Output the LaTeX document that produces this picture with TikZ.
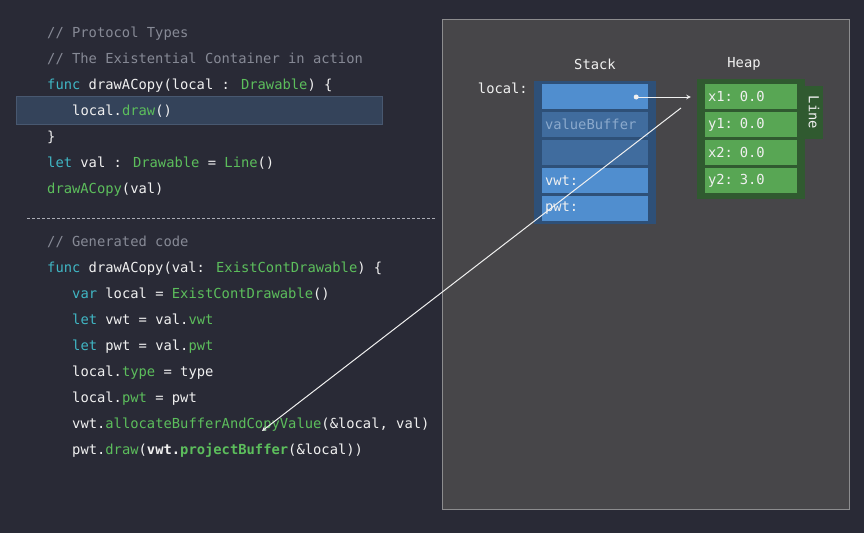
\documentclass[tikz,border=0pt]{standalone}
\usepackage{fontspec}
\newfontfamily\codefont{DejaVu Sans Mono}
\usetikzlibrary{arrows}

\definecolor{bgdark}{RGB}{41,42,54}
\definecolor{panelgrey}{RGB}{71,70,73}
\definecolor{panelline}{RGB}{140,140,142}
\definecolor{stackframe}{RGB}{46,80,120}
\definecolor{cellbright}{RGB}{80,142,207}
\definecolor{celldark}{RGB}{64,108,158}
\definecolor{vbtext}{RGB}{140,170,205}
\definecolor{heapframe}{RGB}{48,90,48}
\definecolor{heapcell}{RGB}{88,166,84}
\definecolor{cmtgrey}{RGB}{135,138,150}
\definecolor{kwdteal}{RGB}{64,182,196}
\definecolor{typgreen}{RGB}{92,190,92}
\definecolor{codewhite}{RGB}{240,240,240}
\definecolor{hlfill}{RGB}{52,67,90}
\definecolor{hlline}{RGB}{72,88,112}

\newcommand{\cmt}[1]{\textcolor{cmtgrey}{#1}}
\newcommand{\kwd}[1]{\textcolor{kwdteal}{#1}}
\newcommand{\typ}[1]{\textcolor{typgreen}{#1}}

\tikzstyle{code} = [anchor=base west, inner sep=0pt, text=codewhite, font={\codefont\fontsize{13.8pt}{16pt}\selectfont}]
\tikzstyle{label} = [inner sep=0pt, text=codewhite, font={\codefont\fontsize{13.8pt}{16pt}\selectfont}]
\tikzstyle{stackcell} = [label, minimum width=106pt, minimum height=25pt, text width=100pt, inner xsep=3pt, align=left]
\tikzstyle{heapcell} = [label, fill=heapcell, minimum width=92pt, minimum height=25pt, text width=86pt, inner xsep=3pt, align=left]
\tikzstyle{frame} = [inner sep=0pt]
\tikzstyle{hlbar} = [fill=hlfill, draw=hlline, line width=1pt]
\tikzstyle{ptr} = [->,>=stealth, draw=codewhite, line width=1pt]

\begin{document}
\begin{tikzpicture}[x=1pt,y=-1pt]
      \useasboundingbox (0,0) rectangle (864,533);
      \fill[bgdark] (0,0) rectangle (864,533);
      %code
      \draw[hlbar] (16,96) rectangle (382,124);
      \draw[cmtgrey!70, line width=1pt, dash pattern=on 3pt off 2pt] (27,218) -- (435,218);
      \foreach \name/\x/\y/\txt in {
        c1/47/37/{\cmt{// Protocol Types}},
        c2/47/63/{\cmt{// The Existential Container in action}},
        c3/47/89/{\kwd{func} drawACopy(local : \typ{Drawable}) \{},
        c4/72/115/{local.\typ{draw}()},
        c5/47/141/{\}},
        c6/47/167/{\kwd{let} val : \typ{Drawable} = \typ{Line}()},
        c7/47/193/{\typ{drawACopy}(val)},
        g1/47/246/{\cmt{// Generated code}},
        g2/47/272/{\kwd{func} drawACopy(val: \typ{ExistContDrawable}) \{},
        g3/72/298/{\kwd{var} local = \typ{ExistContDrawable}()},
        g4/72/324/{\kwd{let} vwt = val.\typ{vwt}},
        g5/72/350/{\kwd{let} pwt = val.\typ{pwt}},
        g6/72/376/{local.\typ{type} = type},
        g7/72/402/{local.\typ{pwt} = pwt},
        g8/72/428/{vwt.\typ{allocateBufferAndCopyValue}(\&local, val)},
        g9/72/454/{pwt.\typ{draw}(\textbf{vwt.\typ{projectBuffer}}(\&local))}}
      {
        \node[code] (\name) at (\x,\y) {\txt};
      };
      %memory panel
      \draw[fill=panelgrey, draw=panelline, line width=1pt] (442,19) rectangle (849,509);
      \node[frame, fill=stackframe, minimum width=122pt, minimum height=143pt] (stack) at (595,152.5) {};
      \node[frame, fill=heapframe, minimum width=108pt, minimum height=120pt] (heap) at (751,139) {};
      \node[frame, fill=heapframe, minimum width=18pt, minimum height=53pt] (linetab) at (814,112.5) {};
      \node[label, rotate=-90] at (linetab) {Line};
      \node[label] (stacktitle) at (595,64) {Stack};
      \node[label] (heaptitle) at (744,64) {Heap};
      \node[label, anchor=base east] (localname) at (528,93) {local:};
      \foreach \name/\y/\cellc/\txt in {
        s1/96.5/cellbright/{},
        s2/124.5/celldark/{\textcolor{vbtext}{valueBuffer}},
        s3/152.5/celldark/{},
        s4/180.5/cellbright/{vwt:},
        s5/208.5/cellbright/{pwt:}}
      {
        \node[stackcell, fill=\cellc] (\name) at (595,\y) {\txt};
      };
      \foreach \name/\y/\txt in {
        h1/96.5/{x1: 0.0},
        h2/124.5/{y1: 0.0},
        h3/152.5/{x2: 0.0},
        h4/180.5/{y2: 3.0}}
      {
        \node[heapcell] (\name) at (751,\y) {\txt};
      };
      %pointers
      \coordinate (ptrstart) at ([xshift=-12pt,yshift=-0.5pt]s1.east);
      \fill[codewhite] (ptrstart) circle (2.5pt);
      \draw[ptr] (ptrstart) -- ([xshift=-14pt,yshift=-0.5pt]h1.west);
      \coordinate (copyfrom) at (681,108);
      \coordinate (copyto) at (262,431);
      \draw[ptr] (copyfrom) -- (copyto);
\end{tikzpicture}
\end{document}
